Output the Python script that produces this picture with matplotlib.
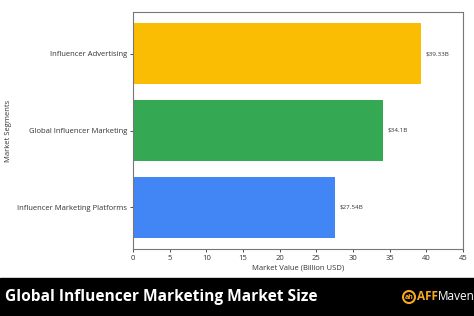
import matplotlib
matplotlib.use('Agg')
import matplotlib.pyplot as plt
from matplotlib.patches import Rectangle, Ellipse

plt.rcParams['font.family'] = ['Open Sans', 'DejaVu Sans']

# data
segments = ['Influencer Marketing Platforms', 'Global Influencer Marketing', 'Influencer Advertising']
values = [27.54, 34.1, 39.33]
labels = ['$27.54B', '$34.1B', '$39.33B']
colors = ['#4285F4', '#34A853', '#FBBC04']
xticks = [0, 5, 10, 15, 20, 25, 30, 35, 40, 45]

fig = plt.figure(figsize=(4.74, 3.16), dpi=100)
ax = fig.add_axes([133/474, 1 - 249/316, (463 - 133)/474, (249 - 12)/316])

ax.barh(segments, values, color=colors, height=0.8)
for i, (v, lab) in enumerate(zip(values, labels)):
    ax.text(v + 0.6, i, lab, va='center', ha='left', fontsize=4.5, color='#333333')

ax.set_xlim(0, 45)
ax.set_xticks(xticks)
ax.tick_params(axis='both', labelsize=5.5, length=2.5, width=0.6, colors='#333333', pad=1.5)
ax.set_xlabel('Market Value (Billion USD)', fontsize=5.5, color='#333333', labelpad=2)
ax.set_ylabel('Market Segments', fontsize=5.5, color='#333333', labelpad=4)
for s in ax.spines.values():
    s.set_color('#777777')
    s.set_linewidth(0.8)

# footer band
fig.patches.append(Rectangle((0, 0), 1, 38/316, transform=fig.transFigure,
                             color='black', zorder=0))
fig.text(5/474, 19/316, 'Global Influencer Marketing Market Size', color='white',
         fontsize=11.2, fontweight='bold', va='center', ha='left')
fig.patches.append(Ellipse((409/474, 19/316), 12/474, 12/316, transform=fig.transFigure,
                           facecolor='none', edgecolor='#F5A623', linewidth=1.5))
fig.text(409/474, 18.5/316, 'ah', color='#F5A623', fontsize=5, fontweight='bold',
         va='center', ha='center')
fig.text(417/474, 19/316, 'AFF', color='#F5A623', fontsize=8.5, fontweight='bold',
         va='center', ha='left')
fig.text(438/474, 19/316, 'Maven', color='white', fontsize=8.5, va='center', ha='left')

fig.savefig('out.png', dpi=100)
